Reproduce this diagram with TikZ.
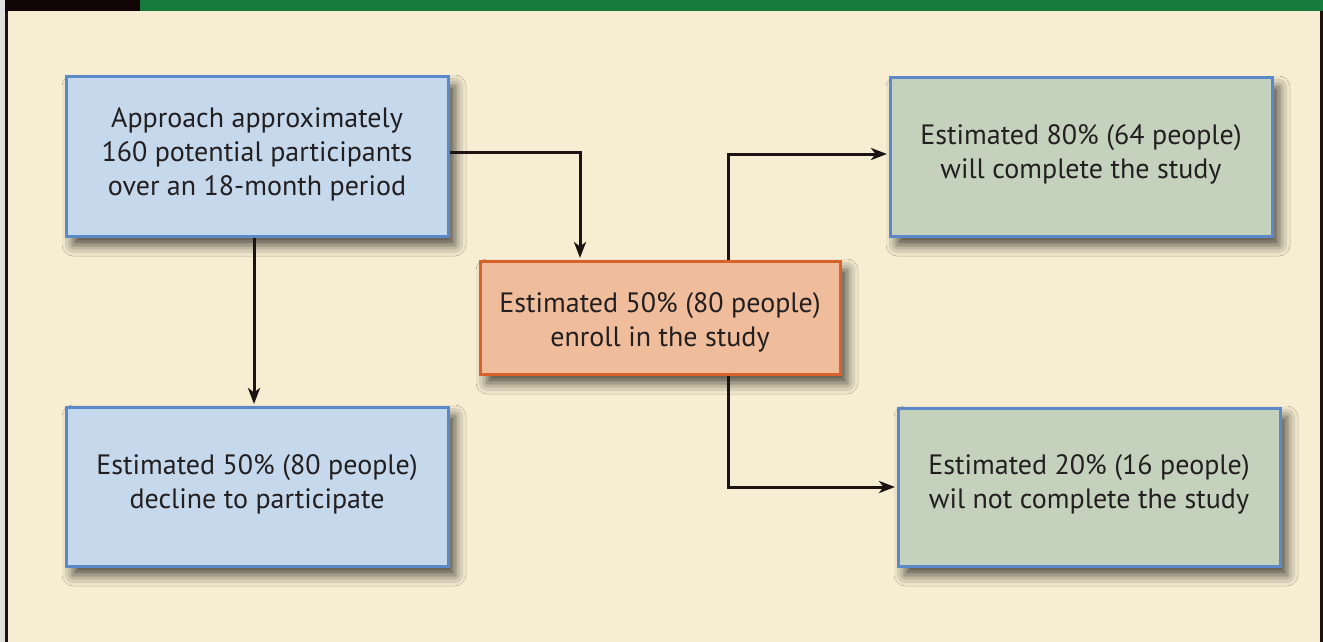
\documentclass[tikz,border=0pt]{standalone}
\usepackage{fontspec}
\setmainfont{PT Sans}
\usetikzlibrary{shadows.blur,arrows.meta}
\definecolor{bg}{HTML}{F6EDD2}
\definecolor{topgreen}{HTML}{177A3D}
\definecolor{topblack}{HTML}{120505}
\definecolor{bluefill}{HTML}{C5D8EC}
\definecolor{blueedge}{HTML}{5B88C8}
\definecolor{orangefill}{HTML}{F0BD9C}
\definecolor{orangeedge}{HTML}{D9612C}
\definecolor{greenfill}{HTML}{C4D1BD}
\definecolor{txt}{HTML}{231F20}
\definecolor{arrowcol}{HTML}{1C1414}
\begin{document}
\begin{tikzpicture}[x=1pt,y=-1pt,
  boxbase/.style={draw, line width=3pt, align=center, text=txt,
    font=\fontsize{28}{34}\selectfont, inner sep=0pt,
    blur shadow={shadow xshift=7pt, shadow yshift=-9pt, shadow blur radius=11pt, shadow opacity=70},
    execute at end node={\rule[-10pt]{0pt}{1pt}}},
  bluebox/.style={boxbase, fill=bluefill, draw=blueedge, minimum width=382pt, minimum height=159pt},
  greenbox/.style={boxbase, fill=greenfill, draw=blueedge, minimum width=382pt, minimum height=158pt},
  orangebox/.style={boxbase, fill=orangefill, draw=orangeedge, minimum width=360pt, minimum height=113pt},
  arr/.style={draw=arrowcol, line width=3pt, -{Stealth[length=16pt,width=12pt,inset=4.5pt]}}
]
\useasboundingbox (0,0) rectangle (1323,642);
\fill[black!12] (0,0) rectangle (1323,642);
\fill[bg] (5,0) rectangle (1320,642);
\fill[topblack!90!gray] (5,0) rectangle (7.5,642);
\fill[topblack!90!gray] (1319.5,0) rectangle (1323,642);
\fill[topblack] (5,0) rectangle (140,11);
\fill[topgreen] (140,0) rectangle (1323,11);

\node[bluebox] (A) at (257,156.5) {Approach approximately\\160 potential participants\\over an 18-month period};
\node[bluebox] (B) at (257,486.5) {Estimated 50\% (80 people)\\decline to participate};
\node[orangebox, execute at end node={}] (C) at (660,317.5) {\rule{0pt}{34pt}Estimated 50\% (80 people)\\enroll in the study};
\node[greenbox] (D) at (1081,157) {Estimated 80\% (64 people)\\will complete the study};
\node[greenbox] (E) at (1089,487) {Estimated 20\% (16 people)\\wil not complete the study};

\draw[arr] ([yshift=4.5pt]A.east) -| ([xshift=-80pt,yshift=1.5pt]C.north);
\draw[arr] ([xshift=-3pt]A.south) -- ([xshift=-3pt,yshift=1.5pt]B.north);
\draw[arr] ([xshift=68pt]C.north) |- ([yshift=3pt,xshift=-1.5pt]D.west);
\draw[arr] ([xshift=68pt]C.south) |- ([xshift=-1.5pt]E.west);
\end{tikzpicture}
\end{document}
